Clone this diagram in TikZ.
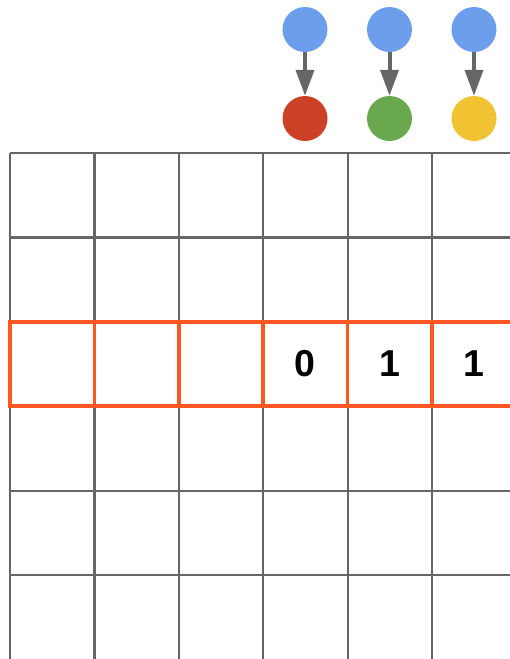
\documentclass[tikz,border=0pt]{standalone}
\usepackage{fontspec}
\setmainfont{Liberation Sans}
\usepackage{xcolor}
\usetikzlibrary{arrows.meta, math}
\definecolor{mygray}{HTML}{666666}
\definecolor{myblue}{HTML}{6D9EEB}
\definecolor{myred}{HTML}{CC4125}
\definecolor{mygreen}{HTML}{6AA84F}
\definecolor{myyellow}{HTML}{F1C232}
\definecolor{myorange}{HTML}{FF5722}

\begin{document}
\begin{tikzpicture}[x=1pt, y=-1pt,
  dot/.style={circle, minimum size=45pt, inner sep=0pt},
  link/.style={-{Triangle[length=26pt,width=18pt]}, line width=4pt, color=mygray},
  gridline/.style={line width=2.2pt, color=mygray},
  hl/.style={line width=3.5pt, color=myorange},
  bit/.style={font=\bfseries\fontsize{37.5}{37.5}\selectfont}]
\tikzmath{
\cw=84.4;
\gx=10;
\gy=153;
}
\useasboundingbox (0,0) rectangle (510,659);
\clip (0,0) rectangle (510,659);

 %grid
 \foreach \i in {0,...,5}
   \draw[gridline] (\gx+\i*\cw,\gy) -- (\gx+\i*\cw,659);
 \foreach \j in {0,...,5}
   \draw[gridline] (\gx,\gy+\j*\cw) -- (510,\gy+\j*\cw);

 %highlighted row
 \foreach \i in {0,...,5}
   \draw[hl] (\gx+\i*\cw,\gy+2*\cw) rectangle ++(\cw,\cw);

 \node[bit] (b1) at (\gx+3.5*\cw,\gy+2.5*\cw) {0};
 \node[bit] (b2) at (\gx+4.5*\cw,\gy+2.5*\cw) {1};
 \node[bit] (b3) at (\gx+5.5*\cw,\gy+2.5*\cw) {1};

 %dots
 \node[dot, fill=myblue] (in1) at (305,29.5) {};
 \node[dot, fill=myblue] (in2) at (389.5,29.5) {};
 \node[dot, fill=myblue] (in3) at (474,29.5) {};
 \node[dot, fill=myred] (out1) at (305,118.5) {};
 \node[dot, fill=mygreen] (out2) at (389.5,118.5) {};
 \node[dot, fill=myyellow] (out3) at (474,118.5) {};

 \draw[link] (in1) -- (out1);
 \draw[link] (in2) -- (out2);
 \draw[link] (in3) -- (out3);

\end{tikzpicture}
\end{document}
